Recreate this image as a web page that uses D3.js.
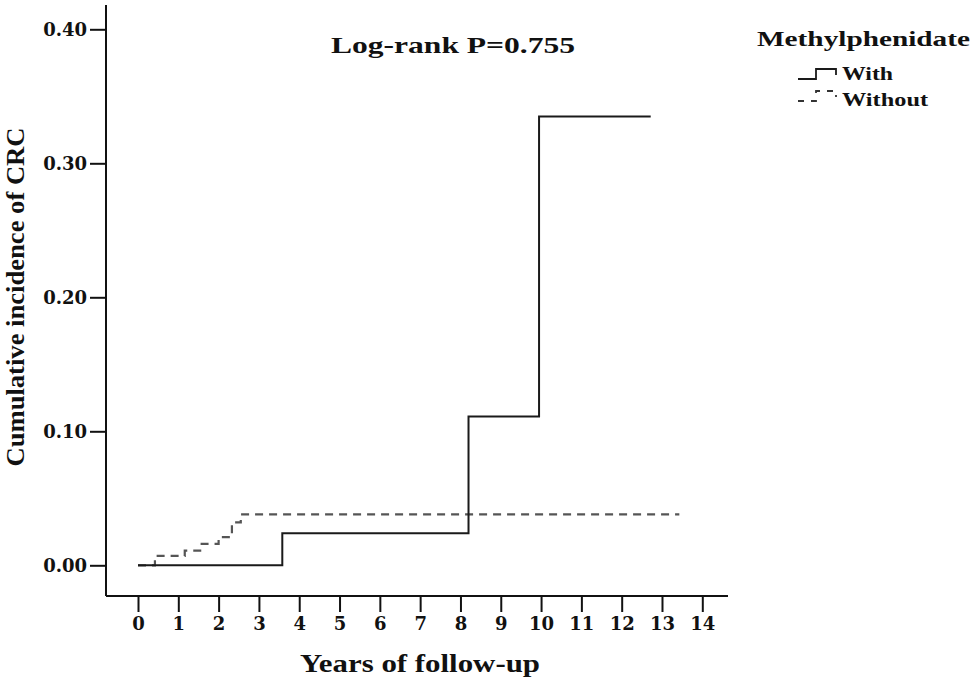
<!DOCTYPE html>
<html>
<head>
<meta charset="utf-8">
<script src="https://cdn.jsdelivr.net/npm/d3@7"></script>
<style>
  body { margin: 0; background: #fff; }
  svg { display: block; }
  .lbl { font-family: "Liberation Serif", "Times New Roman", serif; font-weight: bold; fill: #111; }
  .tick text { font-family: "DejaVu Serif", serif; font-weight: bold; font-size: 18px; fill: #111; }
</style>
</head>
<body>
<div id="chart"></div>
<script>
// Kaplan-Meier style cumulative incidence, step points
const withTimes = [0, 3.58, 8.2, 9.95, 12.72]
const withValues = [0, 0.024, 0.111, 0.335, 0.335]

const withoutTimes = [0, 0.42, 1.16, 1.58, 2.0, 2.33, 2.55, 13.43]
const withoutValues = [0, 0.007, 0.011, 0.016, 0.021, 0.032, 0.038, 0.038]

const xTicks = d3.range(0, 15)
const yTicks = [0, 0.1, 0.2, 0.3, 0.4]

const width = 976
const height = 682

const svg = d3.select("#chart").append("svg")
  .attr("width", width)
  .attr("height", height)

const xScale = d3.scaleLinear().domain([0, 14]).range([138, 702.3])
const yScale = d3.scaleLinear().domain([0, 0.4]).range([565.3, 29.3])

const axisX = 106   // where the y axis line sits
const axisY = 596   // where the x axis line sits

// axis lines (longer than the scale ranges, like the original)
svg.append("line")
  .attr("x1", axisX).attr("x2", axisX)
  .attr("y1", 5).attr("y2", axisY)
  .attr("stroke", "#111").attr("stroke-width", 2)
svg.append("line")
  .attr("x1", axisX).attr("x2", 728)
  .attr("y1", axisY).attr("y2", axisY)
  .attr("stroke", "#111").attr("stroke-width", 2)

const yAxis = d3.axisLeft(yScale)
  .tickValues(yTicks)
  .tickFormat(d3.format(".2f"))
  .tickSize(16)
  .tickSizeOuter(0)
  .tickPadding(3)

svg.append("g")
  .attr("transform", `translate(${axisX},0)`)
  .call(yAxis)
  .call(g => g.select(".domain").remove())
  .call(g => g.selectAll(".tick line").attr("stroke", "#111").attr("stroke-width", 2))

const xAxis = d3.axisBottom(xScale)
  .tickValues(xTicks)
  .tickFormat(d3.format("d"))
  .tickSize(16)
  .tickSizeOuter(0)
  .tickPadding(5)

svg.append("g")
  .attr("transform", `translate(0,${axisY})`)
  .call(xAxis)
  .call(g => g.select(".domain").remove())
  .call(g => g.selectAll(".tick line").attr("stroke", "#111").attr("stroke-width", 2))

// step curves
const line = d3.line()
  .x(d => xScale(d[0]))
  .y(d => yScale(d[1]))
  .curve(d3.curveStepAfter)

svg.append("path")
  .datum(d3.zip(withoutTimes, withoutValues))
  .attr("d", line)
  .attr("fill", "none")
  .attr("stroke", "#555")
  .attr("stroke-width", 2.2)
  .attr("stroke-dasharray", "8,6")

svg.append("path")
  .datum(d3.zip(withTimes, withValues))
  .attr("d", line)
  .attr("fill", "none")
  .attr("stroke", "#1a1a1a")
  .attr("stroke-width", 2)

// texts
svg.append("text")
  .attr("class", "lbl")
  .attr("x", 331).attr("y", 53)
  .attr("font-size", 24)
  .attr("textLength", 244).attr("lengthAdjust", "spacingAndGlyphs")
  .text("Log-rank P=0.755")

svg.append("text")
  .attr("class", "lbl")
  .attr("x", 420).attr("y", 672)
  .attr("text-anchor", "middle")
  .attr("font-size", 26)
  .attr("textLength", 240).attr("lengthAdjust", "spacingAndGlyphs")
  .text("Years of follow-up")

svg.append("text")
  .attr("class", "lbl")
  .attr("transform", "translate(24,297) rotate(-90)")
  .attr("text-anchor", "middle")
  .attr("font-size", 26)
  .attr("textLength", 339).attr("lengthAdjust", "spacingAndGlyphs")
  .text("Cumulative incidence of CRC")

// legend
const legend = svg.append("g")

legend.append("text")
  .attr("class", "lbl")
  .attr("x", 757).attr("y", 46)
  .attr("font-size", 22)
  .attr("textLength", 213).attr("lengthAdjust", "spacingAndGlyphs")
  .text("Methylphenidate")

legend.append("path")
  .attr("d", "M798,79H816V69H836V75")
  .attr("fill", "none").attr("stroke", "#1a1a1a").attr("stroke-width", 1.8)

legend.append("path")
  .attr("d", "M798,101H816V91H836V97")
  .attr("fill", "none").attr("stroke", "#333").attr("stroke-width", 1.8)
  .attr("stroke-dasharray", "6,7")

legend.append("text")
  .attr("class", "lbl")
  .attr("x", 842).attr("y", 80)
  .attr("font-size", 19)
  .attr("textLength", 51).attr("lengthAdjust", "spacingAndGlyphs")
  .text("With")

legend.append("text")
  .attr("class", "lbl")
  .attr("x", 842).attr("y", 106)
  .attr("font-size", 19)
  .attr("textLength", 86).attr("lengthAdjust", "spacingAndGlyphs")
  .text("Without")
</script>
</body>
</html>
